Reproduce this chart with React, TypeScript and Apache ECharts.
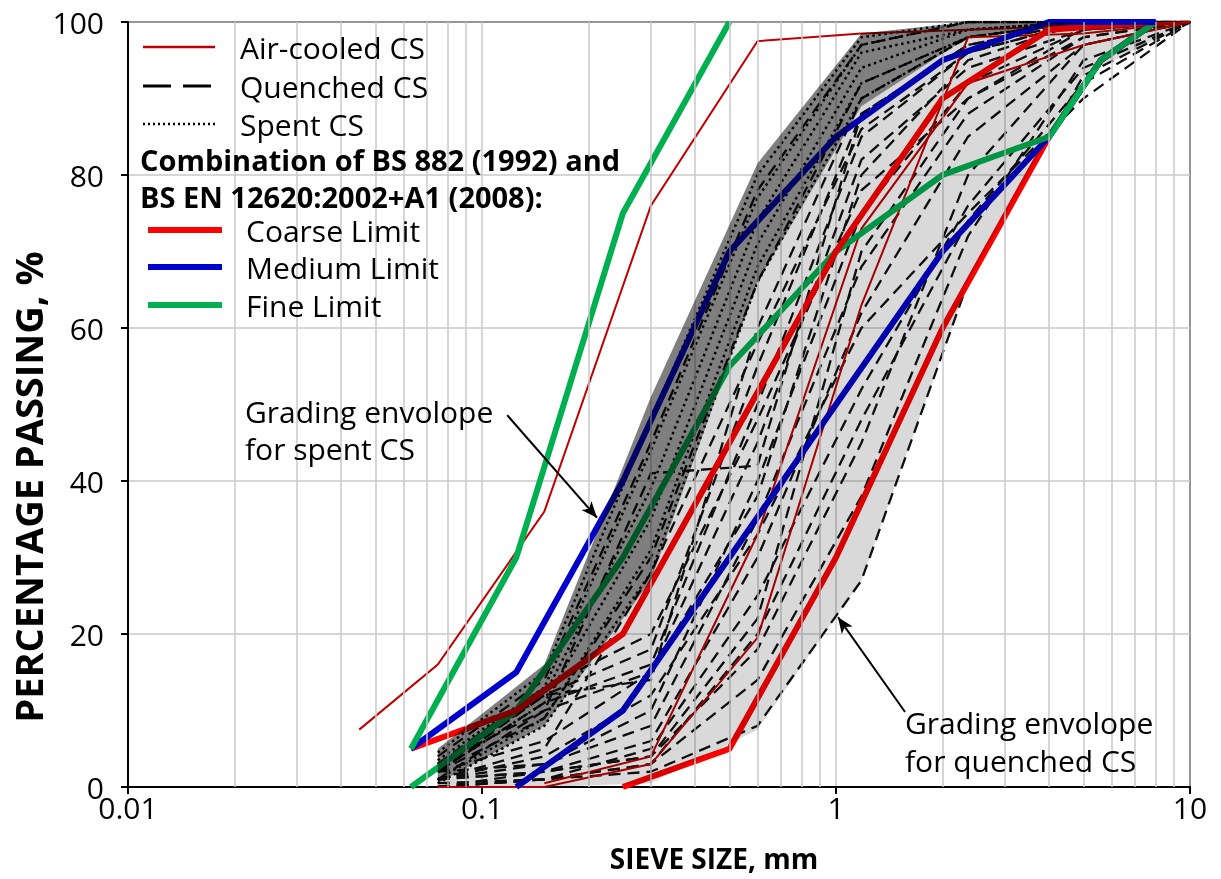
import React, { useEffect, useRef } from "react";
import * as echarts from "echarts";

// Sieve sizes (mm) used for the slag gradings
const SIEVES = [0.075, 0.15, 0.3, 0.6, 1.18, 2.36, 5, 10];

// Quenched CS gradings, % passing at each sieve in SIEVES
const QUENCHED: number[][] = [
  [0.5, 1, 2, 8, 27, 66, 93, 100],
  [0, 1, 3, 14, 38, 72, 95, 100],
  [1, 2, 4, 18, 45, 80, 97, 100],
  [0, 1, 5, 25, 52, 76, 94, 100],
  [1, 2, 6, 30, 62, 85, 97, 100],
  [0, 2, 4, 22, 70, 90, 99, 100],
  [2, 3, 8, 35, 68, 88, 98, 100],
  [1, 3, 10, 40, 75, 92, 99, 100],
  [2, 6, 15, 38, 80, 95, 100, 100],
  [3, 10, 15, 45, 82, 94, 99, 100],
  [2, 11, 16, 50, 85, 96, 100, 100],
  [3, 12, 18, 55, 88, 97, 100, 100],
  [1, 10, 41, 42, 88, 97, 100, 100],
  [2, 12, 14, 60, 90, 98, 100, 100],
  [3, 13, 20, 48, 78, 90, 98, 100],
  [1, 5, 28, 58, 86, 96, 100, 100],
  [4, 14, 45, 78, 97, 100, 100, 100],
  [2, 9, 30, 66, 92, 98, 100, 100],
  [1, 4, 12, 33, 60, 75, 90, 100],
  [0, 1, 3, 20, 48, 74, 92, 100],
];

// Spent CS gradings, % passing at each sieve in SIEVES
const SPENT: number[][] = [
  [4.5, 15, 48, 80, 98, 100, 100, 100],
  [3.5, 13, 44, 77, 97, 100, 100, 100],
  [2.5, 12, 39, 74, 96, 99, 100, 100],
  [2, 11, 35, 71, 94, 99, 100, 100],
  [1, 9, 31, 68, 92, 98, 100, 100],
  [0.5, 8, 28, 66, 90, 98, 100, 100],
];

// Air-cooled CS gradings as [size, % passing]
const AIR_COOLED: [number, number][][] = [
  [[0.045, 7.5], [0.075, 16], [0.15, 36], [0.3, 76], [0.6, 97.5], [1.18, 98.5], [10, 100]],
  [[0.15, 0.5], [0.3, 4], [0.6, 33], [1.18, 73], [2.36, 92], [5, 97], [10, 100]],
  [[0.075, 0], [0.15, 0], [0.3, 3], [0.6, 19.5], [1.18, 63], [2.36, 98], [5, 98.5], [10, 100]],
];

// Grading limits (BS 882 / BS EN 12620 combined)
const COARSE_UPPER: [number, number][] = [[0.063, 5], [0.125, 10], [0.25, 20], [0.5, 45], [1, 70], [2, 90], [4, 99], [8, 100]];
const COARSE_LOWER: [number, number][] = [[0.25, 0], [0.5, 5], [1, 30], [2, 60], [4, 85], [5.6, 95], [8, 100]];
const MEDIUM_UPPER: [number, number][] = [[0.063, 5], [0.125, 15], [0.25, 40], [0.5, 70], [1, 85], [2, 95], [4, 100], [8, 100]];
const MEDIUM_LOWER: [number, number][] = [[0.125, 0], [0.25, 10], [0.5, 30], [1, 50], [2, 70], [4, 85], [5.6, 95], [8, 100]];
const FINE_UPPER: [number, number][] = [[0.063, 5], [0.125, 30], [0.25, 75], [0.5, 100]];
const FINE_LOWER: [number, number][] = [[0.063, 0], [0.125, 10], [0.25, 30], [0.5, 55], [1, 70], [2, 80], [4, 85], [5.6, 95], [8, 100]];

// Grading envelopes
const SPENT_ENV_SIZES = [0.075, 0.15, 0.3, 0.6, 1.18, 2.36, 5];
const SPENT_ENV_UPPER = [5, 16, 51, 81.5, 98.5, 100, 100];
const SPENT_ENV_LOWER = [0.5, 8, 27, 66, 89, 98, 100];
const QUENCHED_ENV_SIZES = [0.075, 0.15, 0.3, 0.6, 1.18, 2.36, 5, 10];
const QUENCHED_ENV_UPPER = [0.5, 8, 27, 66, 89, 98, 100, 100];
const QUENCHED_ENV_LOWER = [0, 0, 0.5, 7.5, 27, 66, 93, 100];

const X_TICK_LABELS = ["0.01", "0.1", "1", "10"];
const Y_TICKS = [0, 20, 40, 60, 80, 100];

const FONT = "'Open Sans', 'Noto Sans', sans-serif";

const zip = (xs: number[], ys: number[]): [number, number][] => xs.map((x, i) => [x, ys[i]]);

const minorGrid: number[] = [];
[0.01, 0.1, 1].forEach((d) => {
  for (let k = 2; k <= 9; k++) minorGrid.push(+(k * d).toPrecision(3));
});

function lineSeries(data: [number, number][], color: string, width: number, type: any, z: number) {
  return {
    type: "line",
    data,
    symbol: "none",
    silent: true,
    z,
    lineStyle: { color, width, type, cap: "butt", join: "miter" },
  };
}

function envelope(xs: number[], upper: number[], lower: number[], fill: string, z: number) {
  const up = zip(xs, upper);
  const low = zip(xs, lower).reverse();
  return {
    type: "custom",
    coordinateSystem: "cartesian2d",
    silent: true,
    z,
    data: [[0.1, 50]],
    renderItem: (_p: any, api: any) => ({
      type: "polygon",
      shape: { points: [...up, ...low].map((p) => api.coord(p)) },
      style: { fill },
    }),
  };
}

export default function App() {
  const ref = useRef<HTMLDivElement>(null);

  useEffect(() => {
    if (!ref.current) return;
    const chart = echarts.init(ref.current, null, { renderer: "svg" });

    const series: any[] = [];

    // minor vertical gridlines of the log axis
    series.push({
      type: "line",
      data: [[0.01, 0]],
      symbol: "none",
      silent: true,
      z: 1,
      lineStyle: { width: 0 },
      markLine: {
        silent: true,
        symbol: "none",
        animation: false,
        label: { show: false },
        lineStyle: { color: "#c8c8c8", width: 1.5, type: "solid" },
        data: minorGrid.map((v) => ({ xAxis: v })),
      },
    });

    QUENCHED.forEach((row) => series.push(lineSeries(zip(SIEVES, row), "#111", 2.3, [12, 7], 2)));
    SPENT.forEach((row) => series.push(lineSeries(zip(SIEVES, row), "#000", 2.5, [2.5, 3.5], 2)));
    AIR_COOLED.forEach((pts) => series.push(lineSeries(pts, "#c00000", 2, "solid", 3)));

    series.push(lineSeries(COARSE_LOWER, "#ff0000", 6, "solid", 4));
    series.push(lineSeries(MEDIUM_LOWER, "#0000cc", 6, "solid", 4));
    series.push(lineSeries(FINE_LOWER, "#00b050", 6, "solid", 4));
    series.push(lineSeries(COARSE_UPPER, "#ff0000", 6, "solid", 4));
    series.push(lineSeries(MEDIUM_UPPER, "#0000cc", 6, "solid", 4));
    series.push(lineSeries(FINE_UPPER, "#00b050", 6, "solid", 4));

    series.push(envelope(QUENCHED_ENV_SIZES, QUENCHED_ENV_UPPER, QUENCHED_ENV_LOWER, "rgba(0,0,0,0.15)", 5));
    series.push(envelope(SPENT_ENV_SIZES, SPENT_ENV_UPPER, SPENT_ENV_LOWER, "rgba(0,0,0,0.5)", 5));

    // annotation arrows
    series.push({
      type: "line",
      data: [[0.01, 0]],
      symbol: "none",
      silent: true,
      z: 6,
      lineStyle: { width: 0 },
      markLine: {
        silent: true,
        animation: false,
        symbol: ["none", "arrow"],
        symbolSize: [10, 16],
        label: { show: false },
        lineStyle: { color: "#000", width: 2, type: "solid" },
        data: [
          [{ coord: [0.1178, 48.6] }, { coord: [0.2113, 35.2] }],
          [{ coord: [1.567, 9.8] }, { coord: [1.013, 22.2] }],
        ],
      },
    });

    const txt = (text: string, x: number, y: number, bold = false, size = 30, align = "left", rotation = 0) => ({
      type: "text",
      x,
      y,
      rotation,
      z: 100,
      style: {
        text,
        fill: "#000",
        font: `${bold ? "bold " : ""}${size}px ${FONT}`,
        lineHeight: size,
        verticalAlign: "middle",
        textAlign: align,
      },
    });
    const swatch = (x1: number, x2: number, y: number, stroke: string, lineWidth: number, lineDash?: number[]) => ({
      type: "line",
      z: 100,
      shape: { x1, y1: y, x2, y2: y },
      style: { stroke, lineWidth, lineDash },
    });

    chart.setOption({
      animation: false,
      grid: { left: 128, right: 31, top: 22, bottom: 92, show: true, borderColor: "#000", borderWidth: 2, backgroundColor: "transparent" },
      xAxis: {
        type: "log",
        logBase: 10,
        min: 0.01,
        max: 10,
        axisLine: { show: true, onZero: false, lineStyle: { color: "#000", width: 2 } },
        axisTick: { show: true, inside: false, length: 7, lineStyle: { color: "#000", width: 2 } },
        axisLabel: {
          fontFamily: FONT,
          fontSize: 30,
          lineHeight: 28,
          color: "#000",
          margin: 6,
          formatter: (v: number) => X_TICK_LABELS[Math.round(Math.log10(v)) + 2] ?? "",
        },
        splitLine: { show: true, lineStyle: { color: "#c8c8c8", width: 1.5 } },
      },
      yAxis: {
        type: "value",
        min: Y_TICKS[0],
        max: Y_TICKS[Y_TICKS.length - 1],
        interval: 20,
        axisLine: { show: true, lineStyle: { color: "#000", width: 2 } },
        axisTick: { show: true, inside: false, length: 7, lineStyle: { color: "#000", width: 2 } },
        axisLabel: { fontFamily: FONT, fontSize: 30, lineHeight: 26, color: "#000", margin: 24 },
        splitLine: { show: true, lineStyle: { color: "#c8c8c8", width: 1.5 } },
      },
      series,
      graphic: [
        // axis titles
        txt("SIEVE SIZE, mm", 714, 858, true, 28, "center"),
        txt("PERCENTAGE PASSING, %", 28, 487, true, 38, "center", Math.PI / 2),
        // key
        swatch(143, 215, 47, "#c00000", 2.5),
        txt("Air-cooled CS", 240, 47),
        swatch(143, 215, 86, "#000", 3, [28, 12]),
        txt("Quenched CS", 240, 86),
        swatch(143, 215, 124, "#000", 2.5, [2, 3]),
        txt("Spent CS", 240, 124),
        txt("Combination of BS 882 (1992) and", 140, 159, true, 29),
        txt("BS EN 12620:2002+A1 (2008):", 140, 196, true, 29),
        swatch(148, 222, 230, "#ff0000", 6),
        txt("Coarse Limit", 246, 230),
        swatch(148, 222, 267, "#0000cc", 6),
        txt("Medium Limit", 246, 267),
        swatch(148, 222, 305, "#00b050", 6),
        txt("Fine Limit", 246, 305),
        // envelope notes
        txt("Grading envolope", 245, 411),
        txt("for spent CS", 245, 448),
        txt("Grading envolope", 905, 722),
        txt("for quenched CS", 905, 760),
      ],
    });

    return () => chart.dispose();
  }, []);

  return <div ref={ref} style={{ position: "fixed", left: 0, top: 0, width: 1221, height: 879 }} />;
}
